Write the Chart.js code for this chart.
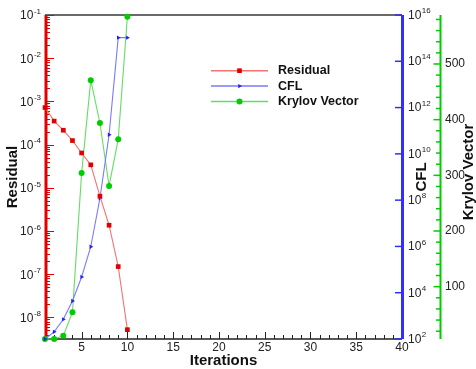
<!DOCTYPE html>
<html>
<head>
<meta charset="utf-8">
<script src="https://cdn.jsdelivr.net/npm/chart.js@4/dist/chart.umd.min.js"></script>
<style>
  html, body { margin: 0; padding: 0; background: #fff; }
  canvas { display: block; }
</style>
</head>
<body>
<canvas id="chart" width="476" height="369"></canvas>
<script>
// Data
var iterations = [1, 2, 3, 4, 5, 6, 7, 8, 9, 10];
var residual = [7.2e-4, 3.5e-4, 2.15e-4, 1.24e-4, 6.4e-5, 3.4e-5, 6.4e-6, 1.36e-6, 1.5e-7, 5.2e-9];
var cfl = [100, 204, 708, 4370, 4.8e4, 9.7e5, 1.2e8, 6.7e10, 1.05e15, 1.05e15];
var krylov = [6, 6, 12, 54, 304, 471, 394, 281, 365, 585];

// Tick labels
var iterTicks = [5, 10, 15, 20, 25, 30, 35, 40];
var residualExp = [-8, -7, -6, -5, -4, -3, -2, -1];
var cflExp = [2, 4, 6, 8, 10, 12, 14, 16];
var krylovTicks = [100, 200, 300, 400, 500];

var FONT = '"Liberation Sans", Arial, sans-serif';
var TEXT = '#222';

function pts(ys) {
  return iterations.map(function (x, i) { return { x: x, y: ys[i] }; });
}

function line(ctx, x1, y1, x2, y2) {
  ctx.beginPath();
  ctx.moveTo(x1, y1);
  ctx.lineTo(x2, y2);
  ctx.stroke();
}

// "10" with a raised exponent
function powLabel(ctx, exp, x, y, align) {
  var base = '10', sup = String(exp);
  ctx.font = '12px ' + FONT;
  var wb = ctx.measureText(base).width;
  ctx.font = '8px ' + FONT;
  var ws = ctx.measureText(sup).width;
  var x0 = align === 'right' ? x - wb - ws - 0.5 : x;
  ctx.textAlign = 'left';
  ctx.textBaseline = 'middle';
  ctx.fillStyle = TEXT;
  ctx.font = '12px ' + FONT;
  ctx.fillText(base, x0, y);
  ctx.font = '8px ' + FONT;
  ctx.fillText(sup, x0 + wb + 0.5, y - 4.5);
}

function vTitle(ctx, text, x, y) {
  ctx.save();
  ctx.translate(x, y);
  ctx.rotate(-Math.PI / 2);
  ctx.textAlign = 'center';
  ctx.textBaseline = 'middle';
  ctx.fillText(text, 0, 0);
  ctx.restore();
}

// axes drawn Tecplot style: ticks point into the plot
var axesPlugin = {
  id: 'tecAxes',
  beforeDatasetsDraw: function (chart) {
    var ctx = chart.ctx;
    var a = chart.chartArea;
    var sx = chart.scales.x, sr = chart.scales.y, sc = chart.scales.cfl, sk = chart.scales.krylov;
    ctx.save();

    // top frame
    ctx.strokeStyle = '#6a6a6a';
    ctx.lineWidth = 2;
    line(ctx, a.left, a.top, a.right, a.top);

    // bottom axis
    ctx.strokeStyle = '#222';
    ctx.lineWidth = 1.5;
    line(ctx, a.left, a.bottom, a.right, a.bottom);
    ctx.lineWidth = 1;
    for (var v = 2; v < 40; v++) {
      var px = Math.round(sx.getPixelForValue(v)) + 0.5;
      line(ctx, px, a.bottom, px, a.bottom - (v % 5 === 0 ? 7 : 4));
    }

    // residual axis (left, red)
    ctx.strokeStyle = '#e00000';
    ctx.lineWidth = 1;
    for (var e = -9; e <= -1; e++) {
      for (var m = 1; m <= 9; m++) {
        var val = m * Math.pow(10, e);
        if (val < sr.min || val > sr.max) continue;
        var py = Math.round(sr.getPixelForValue(val)) + 0.5;
        line(ctx, a.left, py, a.left + (m === 1 ? 9 : 5), py);
      }
    }
    ctx.lineWidth = 3;
    line(ctx, a.left + 1, a.top, a.left + 1, a.bottom);

    // CFL axis (right, blue)
    ctx.strokeStyle = '#2f2fff';
    ctx.lineWidth = 1.5;
    cflExp.forEach(function (ex) {
      var py = sc.getPixelForValue(Math.pow(10, ex));
      line(ctx, a.right, py, a.right - 7, py);
    });
    ctx.lineWidth = 3;
    line(ctx, a.right + 0.5, a.top, a.right + 0.5, a.bottom);

    // Krylov axis (outer right, green)
    var gx = sk.left + 0.5;
    ctx.strokeStyle = '#00cc00';
    ctx.lineWidth = 1.5;
    for (var k = 20; k <= 580; k += 20) {
      var ky = sk.getPixelForValue(k);
      line(ctx, gx, ky, gx - (k % 100 === 0 ? 7 : 4.5), ky);
    }
    ctx.lineWidth = 2;
    line(ctx, gx, a.top, gx, a.bottom);

    ctx.restore();
  },
  afterDraw: function (chart) {
    var ctx = chart.ctx;
    var a = chart.chartArea;
    var sr = chart.scales.y, sc = chart.scales.cfl;
    ctx.save();

    residualExp.forEach(function (ex) {
      powLabel(ctx, ex, 41, sr.getPixelForValue(Math.pow(10, ex)) + 1, 'right');
    });
    cflExp.forEach(function (ex) {
      powLabel(ctx, ex, a.right + 6, sc.getPixelForValue(Math.pow(10, ex)) + 0.5, 'left');
    });

    // axis titles
    ctx.fillStyle = '#111';
    ctx.font = 'bold 15px ' + FONT;
    ctx.textAlign = 'center';
    ctx.textBaseline = 'middle';
    ctx.fillText('Iterations', (a.left + a.right) / 2, 361);
    vTitle(ctx, 'Residual', 13, 177);
    vTitle(ctx, 'CFL', 422, 177);
    vTitle(ctx, 'Krylov Vector', 469, 172);

    // legend
    chart.data.datasets.forEach(function (ds, i) {
      var y = 70.7 + i * 15.4;
      ctx.strokeStyle = ds.borderColor;
      ctx.lineWidth = 1.5;
      line(ctx, 211, y, 268, y);
      ctx.fillStyle = ds.pointBackgroundColor;
      Chart.helpers.drawPoint(ctx, {
        pointStyle: ds.pointStyle,
        rotation: ds.pointRotation || 0,
        radius: ds.pointRadius,
        borderWidth: 0
      }, 239.5, y);
      ctx.fillStyle = '#111';
      ctx.font = 'bold 12.5px ' + FONT;
      ctx.textAlign = 'left';
      ctx.textBaseline = 'middle';
      ctx.fillText(ds.label, 278, y);
    });

    ctx.restore();
  }
};

var ctx = document.getElementById('chart').getContext('2d');

var myChart = new Chart(ctx, {
  type: 'scatter',
  data: {
    datasets: [
      {
        label: 'Residual',
        data: pts(residual),
        yAxisID: 'y',
        showLine: true,
        borderColor: '#f27474',
        borderWidth: 1.1,
        pointStyle: 'rect',
        pointRadius: 3.3,
        pointBackgroundColor: '#e00000',
        pointBorderWidth: 0,
        clip: false
      },
      {
        label: 'CFL',
        data: pts(cfl),
        yAxisID: 'cfl',
        showLine: true,
        borderColor: '#7a7aff',
        borderWidth: 1.1,
        pointStyle: 'triangle',
        pointRotation: 90,
        pointRadius: 2.5,
        pointBackgroundColor: '#2020ff',
        pointBorderWidth: 0,
        clip: false
      },
      {
        label: 'Krylov Vector',
        data: pts(krylov),
        yAxisID: 'krylov',
        showLine: true,
        borderColor: '#66dc66',
        borderWidth: 1.1,
        pointStyle: 'circle',
        pointRadius: 3,
        pointBackgroundColor: '#00cc00',
        pointBorderWidth: 0,
        clip: false
      }
    ]
  },
  options: {
    responsive: false,
    devicePixelRatio: 1,
    animation: false,
    layout: { padding: { top: 15, left: 0, right: 0, bottom: 0 } },
    plugins: {
      legend: { display: false },
      tooltip: { enabled: false }
    },
    scales: {
      x: {
        type: 'linear',
        position: 'bottom',
        min: 1,
        max: 40,
        grid: { display: false, drawTicks: false },
        border: { display: false },
        ticks: {
          autoSkip: false,
          maxRotation: 0,
          padding: 1,
          color: TEXT,
          font: { family: FONT, size: 12 }
        },
        afterBuildTicks: function (s) {
          s.ticks = iterTicks.map(function (v) { return { value: v }; });
        },
        afterFit: function (s) { s.height = 30; }
      },
      y: {
        type: 'logarithmic',
        position: 'left',
        min: Math.pow(10, -8.5),
        max: 0.1,
        grid: { display: false, drawTicks: false },
        border: { display: false },
        ticks: { display: false },
        afterFit: function (s) { s.width = 45; }
      },
      cfl: {
        type: 'logarithmic',
        position: 'right',
        min: 1e2,
        max: 1e16,
        grid: { display: false, drawTicks: false },
        border: { display: false },
        ticks: { display: false },
        afterFit: function (s) { s.width = 38; }
      },
      krylov: {
        type: 'linear',
        position: 'right',
        min: 6,
        max: 588,
        grid: { display: false, drawTicks: false },
        border: { display: false },
        ticks: {
          padding: 5,
          color: TEXT,
          font: { family: FONT, size: 12 }
        },
        afterBuildTicks: function (s) {
          s.ticks = krylovTicks.map(function (v) { return { value: v }; });
        },
        afterFit: function (s) { s.width = 36; }
      }
    }
  },
  plugins: [axesPlugin]
});
</script>
</body>
</html>
